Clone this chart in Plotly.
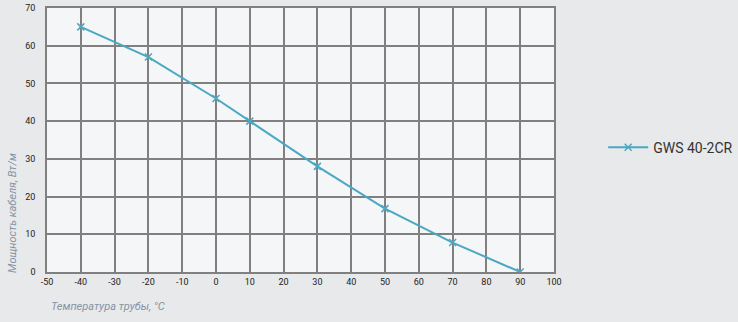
import plotly.graph_objects as go

temps = [-40, -20, 0, 10, 30, 50, 70, 90]
power = [65, 57, 46, 40, 28, 16.8, 7.8, 0]
series_name = "GWS 40-2CR"
x_ticks = list(range(-50, 101, 10))
y_ticks = list(range(0, 71, 10))
x_title = "Температура трубы, °C"
y_title = "Мощность кабеля, Вт/м"

line_color = "#4aa8c2"
title_color = "#8593a6"
font_family = "Liberation Sans Narrow, Roboto, Arial, sans-serif"

fig = go.Figure()
fig.add_trace(go.Scatter(
    x=temps, y=power, mode="lines+markers", name=series_name,
    line=dict(color=line_color, width=2),
    marker=dict(symbol="x-thin", size=7, line=dict(color=line_color, width=1.5), color=line_color),
))

fig.update_layout(
    width=738, height=322,
    margin=dict(l=47, r=184, t=8, b=50, autoexpand=False),
    paper_bgcolor="#e8e9ea",
    plot_bgcolor="#f4f6f8",
    font=dict(family=font_family, size=9, color="#222"),
    showlegend=True,
    legend=dict(x=1.097, y=0.471, xanchor="left", yanchor="middle",
                bgcolor="rgba(0,0,0,0)",
                font=dict(size=14, color="#333", family=font_family),
                itemwidth=40),
    xaxis=dict(range=[-50, 100], tickvals=x_ticks, ticktext=[str(v) for v in x_ticks],
               showgrid=True, gridcolor="#808080", gridwidth=1.5,
               showline=True, linecolor="#808080", linewidth=1.5, mirror=True,
               zeroline=False, ticks="", tickfont=dict(size=9, color="#222")),
    yaxis=dict(range=[0, 70], tickvals=y_ticks, ticktext=[str(v) for v in y_ticks],
               showgrid=True, gridcolor="#808080", gridwidth=1.5,
               showline=True, linecolor="#808080", linewidth=1.5, mirror=True,
               zeroline=False, ticks="", tickfont=dict(size=9, color="#222"),
               ticklabelstandoff=8),
    annotations=[
        dict(text=f"<i>{x_title}</i>", xref="paper", yref="paper", x=0.004, y=-0.1,
             xanchor="left", yanchor="top", showarrow=False,
             font=dict(size=11, color=title_color, family=font_family)),
        dict(text=f"<i>{y_title}</i>", xref="paper", yref="paper", x=-0.067, y=-0.011,
             xanchor="center", yanchor="bottom", textangle=-90, showarrow=False,
             font=dict(size=11, color=title_color, family=font_family)),
    ],
)

fig.write_html("out.html")
